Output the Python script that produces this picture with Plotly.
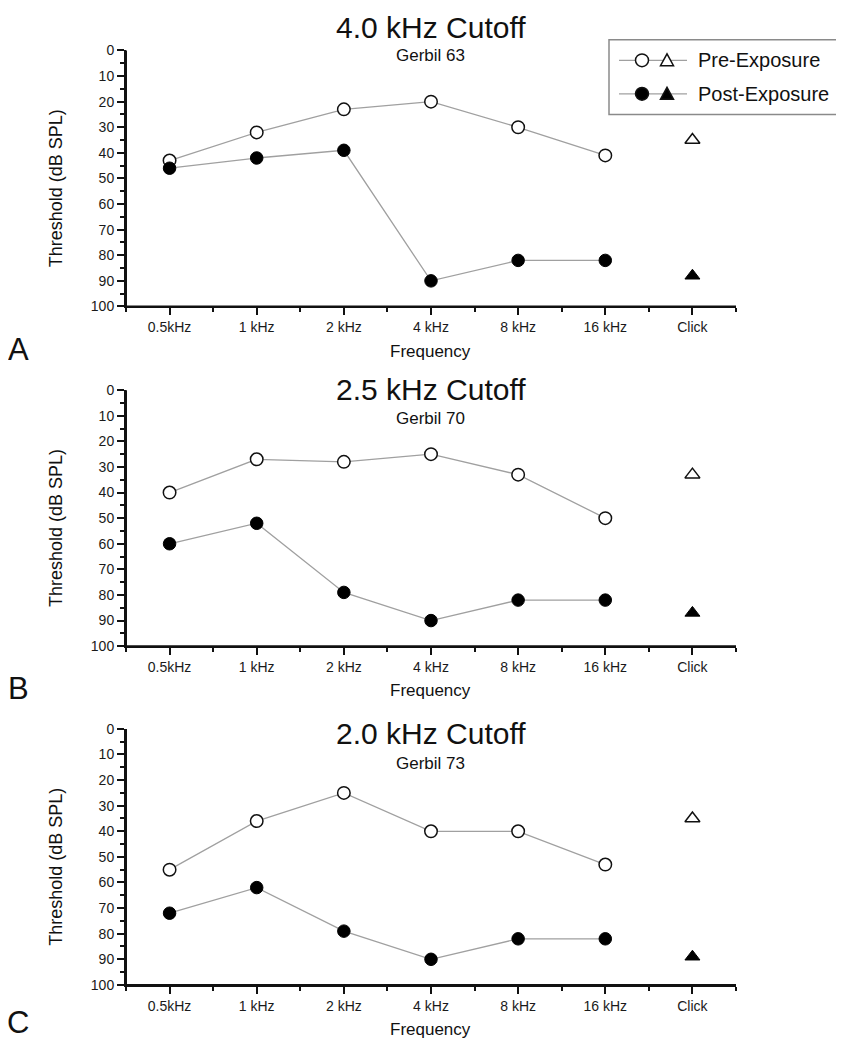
import plotly.graph_objects as go

# ---------------- data ----------------
freq_labels = ["0.5kHz", "1 kHz", "2 kHz", "4 kHz", "8 kHz", "16 kHz"]
click_label = "Click"

panel_titles = ["4.0 kHz Cutoff", "2.5 kHz Cutoff", "2.0 kHz Cutoff"]
panel_subtitles = ["Gerbil 63", "Gerbil 70", "Gerbil 73"]
panel_letters = ["A", "B", "C"]

pre_a = [43, 32, 23, 20, 30, 41]
post_a = [46, 42, 39, 90, 82, 82]
pre_click_a = 35
post_click_a = 88

pre_b = [40, 27, 28, 25, 33, 50]
post_b = [60, 52, 79, 90, 82, 82]
pre_click_b = 33
post_click_b = 87

pre_c = [55, 36, 25, 40, 40, 53]
post_c = [72, 62, 79, 90, 82, 82]
pre_click_c = 35
post_click_c = 89

y_ticks = [0, 10, 20, 30, 40, 50, 60, 70, 80, 90, 100]

# ---------------- layout helpers ----------------
# the page body has an 8px default margin, so the figure is drawn 8px in from the window edge
OFF = 8
W, H = 844 - OFF, 1050 - OFF
FONT = "Liberation Sans, Arial, sans-serif"


def px(x):
    return (x - OFF) / W


def py(y):
    return 1 - (y - OFF) / H


# window-pixel geometry of each panel: (axis top, axis bottom, title y, subtitle y, xtitle y, letter y)
panels_px = [
    (43, 303, 20, 48, 349, 347),
    (388, 648, 387, 417, 693, 691),
    (732, 992, 737, 767, 1037, 1030),
]
x_left, x_right = 126, 736

all_labels = freq_labels + [click_label]
xpos = list(range(len(all_labels)))

series = [
    (pre_a, post_a, pre_click_a, post_click_a),
    (pre_b, post_b, pre_click_b, post_click_b),
    (pre_c, post_c, pre_click_c, post_click_c),
]

fig = go.Figure()
LINE_COLOR = "#a0a0a0"
AX_COLOR = "#111111"

annotations = []
shapes = []
for i, ((pre, post, pre_click, post_click), geo) in enumerate(zip(series, panels_px)):
    top, bot, ty, sy, fy, ly = geo
    suffix = "" if i == 0 else str(i + 1)
    xa, ya = "x" + suffix, "y" + suffix
    fx = xpos[: len(freq_labels)]
    fig.add_trace(go.Scatter(
        x=fx, y=pre, xaxis=xa, yaxis=ya, mode="lines+markers",
        line=dict(color=LINE_COLOR, width=1.3),
        marker=dict(symbol="circle", size=12.5, color="white", line=dict(color="#111", width=1.5)),
        showlegend=False, cliponaxis=False))
    fig.add_trace(go.Scatter(
        x=fx, y=post, xaxis=xa, yaxis=ya, mode="lines+markers",
        line=dict(color=LINE_COLOR, width=1.3),
        marker=dict(symbol="circle", size=12.5, color="black", line=dict(color="black", width=1)),
        showlegend=False, cliponaxis=False))
    fig.add_trace(go.Scatter(
        x=[xpos[-1]], y=[pre_click], xaxis=xa, yaxis=ya, mode="markers",
        marker=dict(symbol="triangle-up", size=13, color="white", line=dict(color="#111", width=1.5)),
        showlegend=False, cliponaxis=False))
    fig.add_trace(go.Scatter(
        x=[xpos[-1]], y=[post_click], xaxis=xa, yaxis=ya, mode="markers",
        marker=dict(symbol="triangle-up", size=13, color="black", line=dict(color="black", width=1)),
        showlegend=False, cliponaxis=False))

    axis_common = dict(
        showline=True, linecolor=AX_COLOR, linewidth=2, ticks="outside", ticklen=7,
        tickwidth=2, tickcolor=AX_COLOR, showgrid=False, zeroline=False,
        tickfont=dict(family=FONT, size=14, color="#1a1a1a"),
    )
    fig.update_layout(**{
        ("xaxis" + suffix): dict(
            domain=[px(x_left), px(x_right)], anchor=ya, range=[-0.5, len(all_labels) - 0.5],
            tickmode="array", tickvals=xpos, ticktext=all_labels,
            minor=dict(tickmode="linear", tick0=0.5, dtick=1, ticks="outside", ticklen=4,
                       tickwidth=1.5, tickcolor=AX_COLOR),
            **axis_common),
        ("yaxis" + suffix): dict(
            domain=[py(bot), py(top)], anchor=xa, range=[100, 0],
            tickmode="array", tickvals=y_ticks,
            minor=dict(tickmode="linear", tick0=5, dtick=10, ticks="outside", ticklen=4,
                       tickwidth=1.5, tickcolor=AX_COLOR),
            **axis_common),
    })

    # explicit axis lines (bottom and left spines)
    shapes.append(dict(type="line", xref=xa + " domain", yref=ya + " domain",
                       x0=0, x1=1, y0=0, y1=0, line=dict(color=AX_COLOR, width=2)))
    shapes.append(dict(type="line", xref=xa + " domain", yref=ya + " domain",
                       x0=0, x1=0, y0=0, y1=1, line=dict(color=AX_COLOR, width=2)))

    cx = px((x_left + x_right) / 2)
    annotations += [
        dict(text=panel_titles[i], x=cx, y=py(ty), xref="paper", yref="paper",
             showarrow=False, xanchor="center", yanchor="middle",
             font=dict(family=FONT, size=30, color="#111")),
        dict(text=panel_subtitles[i], x=cx, y=py(sy), xref="paper", yref="paper",
             showarrow=False, xanchor="center", yanchor="middle",
             font=dict(family=FONT, size=17, color="#111")),
        dict(text="Frequency", x=cx, y=py(fy), xref="paper", yref="paper",
             showarrow=False, xanchor="center", yanchor="middle",
             font=dict(family=FONT, size=17, color="#111")),
        dict(text="Threshold (dB SPL)", x=px(56), y=py((top + bot) / 2 + 10), xref="paper",
             yref="paper", showarrow=False, textangle=-90, xanchor="center", yanchor="middle",
             font=dict(family=FONT, size=18, color="#111")),
        dict(text=panel_letters[i], x=px(18), y=py(ly), xref="paper", yref="paper",
             showarrow=False, xanchor="center", yanchor="middle",
             font=dict(family=FONT, size=31, color="#111")),
    ]

# ---------------- hand-built legend (box, glyphs, labels) ----------------
shapes.append(dict(type="rect", xref="paper", yref="paper", x0=px(609), x1=px(838),
                   y0=py(108), y1=py(32), line=dict(color="#8a8a8a", width=1.5),
                   fillcolor="white"))
legend_rows = [("Pre-Exposure", 53, "white"), ("Post-Exposure", 87, "black")]
for label, yy, fill in legend_rows:
    shapes.append(dict(type="line", xref="paper", yref="paper", x0=px(619), x1=px(687),
                       y0=py(yy), y1=py(yy), line=dict(color=LINE_COLOR, width=1.3)))
    r = 6.5
    shapes.append(dict(type="circle", xref="paper", yref="paper", x0=px(642 - r), x1=px(642 + r),
                       y0=py(yy + r), y1=py(yy - r), fillcolor=fill,
                       line=dict(color="#111", width=1.5)))
    tx, th = 667, 6.5
    path = "M {} {} L {} {} L {} {} Z".format(
        px(tx - th), py(yy + th * 0.85), px(tx + th), py(yy + th * 0.85), px(tx), py(yy - th))
    shapes.append(dict(type="path", xref="paper", yref="paper", path=path, fillcolor=fill,
                       line=dict(color="#111", width=1.5)))
    annotations.append(dict(text=label, x=px(696), y=py(yy), xref="paper", yref="paper",
                            showarrow=False, xanchor="left", yanchor="middle",
                            font=dict(family=FONT, size=20, color="#111")))

fig.update_layout(
    width=W, height=H, margin=dict(l=0, r=0, t=0, b=0),
    paper_bgcolor="white", plot_bgcolor="white",
    showlegend=False, annotations=annotations, shapes=shapes,
)

fig.write_html("out.html")
